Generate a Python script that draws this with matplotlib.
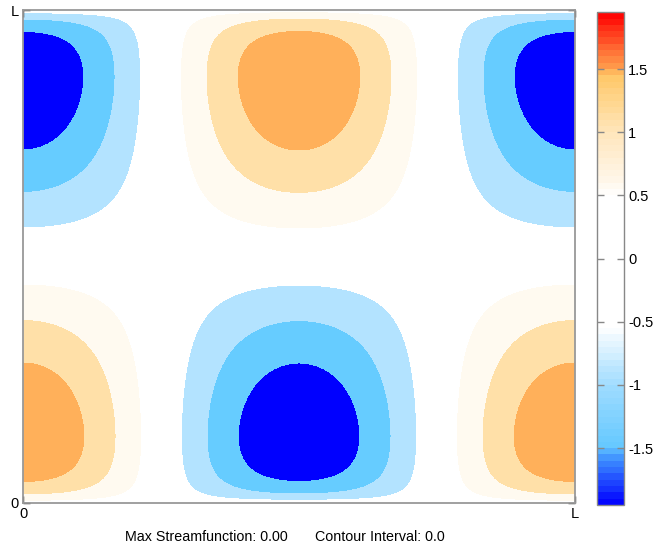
import numpy as np
import matplotlib.pyplot as plt
from matplotlib.colors import ListedColormap, BoundaryNorm, LinearSegmentedColormap
from matplotlib.cm import ScalarMappable

plt.rcParams['font.family'] = ['Liberation Sans', 'DejaVu Sans']

# streamfunction mode: cos in x, bounded sine with wall layers in y
kx = 2 * np.pi
ky = 3.8
delta = 0.030
p = 0.8

# filled contour bands (normalised streamfunction)
levels = [-10, -0.77, -0.5, -0.23, 0.23, 0.5, 0.77, 10]
band_colors = ['#0000ff', '#66ccff', '#b3e3ff', '#ffffff', '#fffaf0', '#ffe0a8', '#ffb05a']

# colour scale on the bar
cbar_vals = [-1.95, -1.6, -1.5, -1.0, -0.55, 0.5, 0.6, 1.0, 1.45, 1.5, 1.95]
cbar_cols = ['#0000ff', '#3c8cff', '#64c8ff', '#a0dcff', '#ffffff', '#ffffff',
             '#fff8ec', '#ffe6bc', '#ffc868', '#ffa550', '#ff0000']
cbar_ticks = [-1.5, -1, -0.5, 0, 0.5, 1, 1.5]
cbar_labels = ['-1.5', '-1', '-0.5', '0', '0.5', '1', '1.5']
cbar_step = 0.05

axis_ticks = [0, 1]
axis_labels = ['0', 'L']

x = np.linspace(0, 1, 401)
y = np.linspace(0, 1, 401)
X, Y = np.meshgrid(x, y)
u = Y - 0.5
d = 0.5 - np.abs(u)
prof = np.sin(ky * u) * (1 - np.exp(-(d / delta) ** p))
psi = -np.cos(kx * X) * prof
psi = psi / np.abs(psi).max()

fig = plt.figure(figsize=(6.54, 5.5), dpi=100)
ax = fig.add_axes([0.0352, 0.0855, 0.8440, 0.8963])
ax.contourf(X, Y, psi, levels=levels, colors=band_colors)
ax.set_xlim(0, 1)
ax.set_ylim(0, 1)
ax.set_xticks(axis_ticks)
ax.set_xticklabels(axis_labels)
ax.set_yticks(axis_ticks)
ax.set_yticklabels(axis_labels)
ax.tick_params(direction='in', length=5, width=1, color='#222222',
               labelsize=10.5, pad=3, top=True, right=True)
for s in ax.spines.values():
    s.set_color('#999999')
    s.set_linewidth(1.3)

# discrete colour bar
lo, hi = cbar_vals[0], cbar_vals[-1]
smooth = LinearSegmentedColormap.from_list(
    'psi', [((v - lo) / (hi - lo), c) for v, c in zip(cbar_vals, cbar_cols)])
bounds = np.arange(lo, hi + cbar_step / 2, cbar_step)
centers = (bounds[:-1] + bounds[1:]) / 2
cmap = ListedColormap(smooth((centers - lo) / (hi - lo)))
norm = BoundaryNorm(bounds, cmap.N)

cax = fig.add_axes([0.9128, 0.0818, 0.0413, 0.896])
cb = fig.colorbar(ScalarMappable(norm=norm, cmap=cmap), cax=cax, ticks=cbar_ticks)
cb.minorticks_off()
cb.ax.set_yticklabels(cbar_labels)
cb.ax.tick_params(axis='y', which='major', direction='in', left=True, right=True,
                  length=5, width=1, color='#888888', labelsize=10.5, pad=3)
cb.outline.set_edgecolor('#888888')
cb.outline.set_linewidth(1)

fig.text(0.315, 0.0236, 'Max Streamfunction: 0.00', ha='center', va='center', fontsize=10.3)
fig.text(0.581, 0.0236, 'Contour Interval: 0.0', ha='center', va='center', fontsize=10.3)

fig.savefig('out.png', dpi=100)
